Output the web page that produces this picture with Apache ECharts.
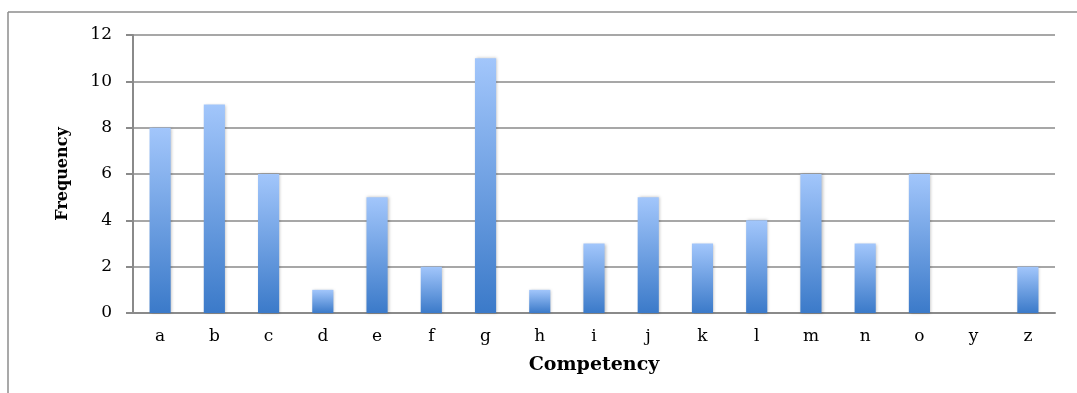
<!DOCTYPE html>
<html>
<head>
<meta charset="utf-8">
<style>
  html, body { margin: 0; padding: 0; background: #fff; }
  #chart { width: 1077px; height: 393px; }
</style>
<script src="https://cdn.jsdelivr.net/npm/echarts@6/dist/echarts.min.js"></script>
</head>
<body>
<div id="chart"></div>
<script>
var categories = ['a', 'b', 'c', 'd', 'e', 'f', 'g', 'h', 'i', 'j', 'k', 'l', 'm', 'n', 'o', 'y', 'z'];
var frequency = [8, 9, 6, 1, 5, 2, 11, 1, 3, 5, 3, 4, 6, 3, 6, 0, 2];

var myChart = echarts.init(document.getElementById('chart'));

var serif = 'DejaVu Serif';
var axisGray = '#8a8a8a';

var option = {
  animation: false,
  // outer frame (top + left edge only)
  graphic: [
    { type: 'line', shape: { x1: 8, y1: 12, x2: 1077, y2: 12 }, style: { stroke: '#8c8c8c', lineWidth: 1.5 } },
    { type: 'line', shape: { x1: 8, y1: 12, x2: 8, y2: 393 }, style: { stroke: '#8c8c8c', lineWidth: 1.5 } }
  ],
  grid: { left: 133, right: 22, top: 35, bottom: 80 },
  xAxis: {
    type: 'category',
    data: categories,
    name: 'Competency',
    nameLocation: 'middle',
    nameGap: 43,
    nameTextStyle: { fontFamily: serif, fontWeight: 'bold', fontSize: 19, color: '#000' },
    axisLine: { lineStyle: { color: axisGray, width: 2 } },
    axisTick: { length: 7, lineStyle: { color: axisGray, width: 2 } },
    axisLabel: { fontFamily: serif, fontSize: 17, color: '#000', margin: 15, interval: 0 }
  },
  yAxis: {
    type: 'value',
    min: 0,
    max: 12,
    interval: 2,
    name: 'Frequency',
    nameLocation: 'middle',
    nameGap: 62,
    nameTextStyle: { fontFamily: serif, fontWeight: 'bold', fontSize: 16, color: '#000' },
    axisLine: { show: true, lineStyle: { color: axisGray, width: 2 } },
    axisTick: { show: true, length: 7, lineStyle: { color: axisGray, width: 2 } },
    axisLabel: { fontFamily: serif, fontSize: 17, color: '#000', margin: 21 },
    splitLine: { lineStyle: { color: axisGray, width: 1.5 } }
  },
  series: [{
    type: 'bar',
    data: frequency,
    barWidth: '39%',
    itemStyle: {
      color: new echarts.graphic.LinearGradient(0, 0, 0, 1, [
        { offset: 0, color: '#a2c6fb' },
        { offset: 1, color: '#3b7ac9' }
      ]),
      shadowBlur: 3,
      shadowColor: 'rgba(0,0,0,0.25)',
      shadowOffsetX: 1,
      shadowOffsetY: 0
    }
  }]
};

myChart.setOption(option);
</script>
</body>
</html>
